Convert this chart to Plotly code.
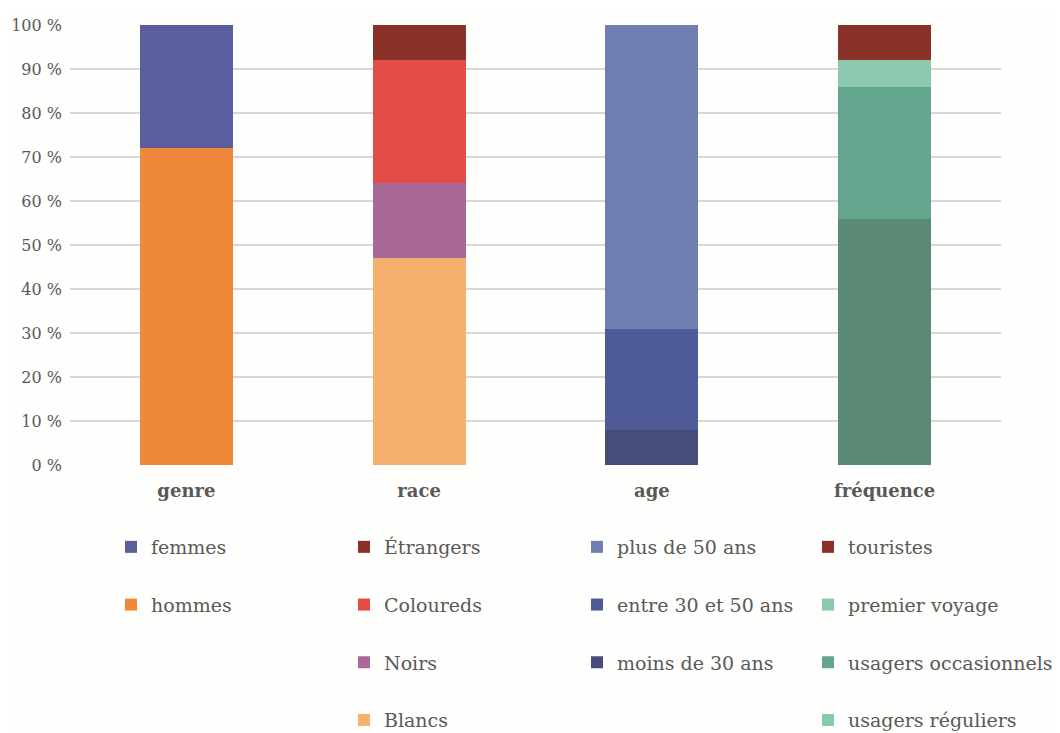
import plotly.graph_objects as go

categories = ["genre", "race", "age", "fréquence"]

# one list per stacked segment, bottom first, values in %
genre_names = ["hommes", "femmes"]
genre_values = [72, 28]
genre_colors = ["#f0883c", "#5b5e9e"]

race_names = ["Blancs", "Noirs", "Coloureds", "Étrangers"]
race_values = [47, 17, 28, 8]
race_colors = ["#f5b070", "#a86999", "#e44c48", "#8b3228"]

age_names = ["moins de 30 ans", "entre 30 et 50 ans", "plus de 50 ans"]
age_values = [8, 23, 69]
age_colors = ["#474c78", "#4f5b98", "#6f7db0"]

freq_names = ["usagers réguliers", "usagers occasionnels", "premier voyage", "touristes"]
freq_values = [56, 30, 6, 8]
freq_colors = ["#5b8a77", "#64a68d", "#8bc8ae", "#8b3228"]
# the original legend shows a lighter swatch for "usagers réguliers"
freq_legend_colors = ["#8bc8ae", "#64a68d", "#8bc8ae", "#8b3228"]

y_ticks = [0, 10, 20, 30, 40, 50, 60, 70, 80, 90, 100]

FONT = "DejaVu Serif"
TEXT = "#595959"

groups = [
    (categories[0], genre_names, genre_values, genre_colors, genre_colors, "legend"),
    (categories[1], race_names, race_values, race_colors, race_colors, "legend2"),
    (categories[2], age_names, age_values, age_colors, age_colors, "legend3"),
    (categories[3], freq_names, freq_values, freq_colors, freq_legend_colors, "legend4"),
]

fig = go.Figure()
for cat, names, values, colors, leg_colors, leg in groups:
    for i, (name, val, col, lcol) in enumerate(zip(names, values, colors, leg_colors)):
        same = col == lcol
        # top segment listed first in the legend
        rank = 1000 - 10 * i
        fig.add_trace(
            go.Bar(
                x=[cat],
                y=[val],
                name=name,
                marker=dict(color=col, line=dict(width=0)),
                legend=leg,
                legendgroup=name,
                legendrank=rank,
                showlegend=same,
                hoverinfo="name+y",
            )
        )
        if not same:
            # legend-only proxy (zero height) so the swatch matches the original
            fig.add_trace(
                go.Bar(
                    x=[cat],
                    y=[0],
                    name=name,
                    marker=dict(color=lcol, line=dict(width=0)),
                    legend=leg,
                    legendgroup=name,
                    legendrank=rank,
                    showlegend=True,
                    hoverinfo="skip",
                )
            )

legend_x = [103, 336, 569, 800]
legend_style = dict(
    xref="container",
    yref="container",
    xanchor="left",
    yanchor="top",
    y=1 - 520 / 733,
    orientation="v",
    traceorder="grouped",
    tracegroupgap=30,
    font=dict(family=FONT, size=19, color=TEXT),
    bgcolor="rgba(0,0,0,0)",
    itemclick=False,
)

fig.update_layout(
    width=1060,
    height=733,
    barmode="stack",
    bargap=0.6,
    plot_bgcolor="#fefefc",
    paper_bgcolor="#fefefc",
    margin=dict(l=62, r=67, t=17, b=276, autoexpand=False),
    font=dict(family=FONT, color=TEXT),
    legend=dict(legend_style, x=legend_x[0] / 1060),
    legend2=dict(legend_style, x=legend_x[1] / 1060),
    legend3=dict(legend_style, x=legend_x[2] / 1060),
    legend4=dict(legend_style, x=legend_x[3] / 1060),
    xaxis=dict(
        categoryorder="array",
        categoryarray=categories,
        range=[-0.5, 3.5],
        showgrid=False,
        showline=False,
        ticks="",
        tickfont=dict(family=FONT, size=18, color=TEXT, weight="bold"),
        ticklabelstandoff=13,
        automargin=False,
    ),
    yaxis=dict(
        range=[0, 100],
        tickvals=y_ticks,
        ticktext=[f"{v} %" for v in y_ticks],
        showgrid=True,
        gridcolor="#d9d6d4",
        gridwidth=1.5,
        zeroline=False,
        showline=False,
        tickfont=dict(family=FONT, size=16, color=TEXT),
        ticklabelstandoff=7,
        automargin=False,
    ),
)

fig.write_html("out.html")
